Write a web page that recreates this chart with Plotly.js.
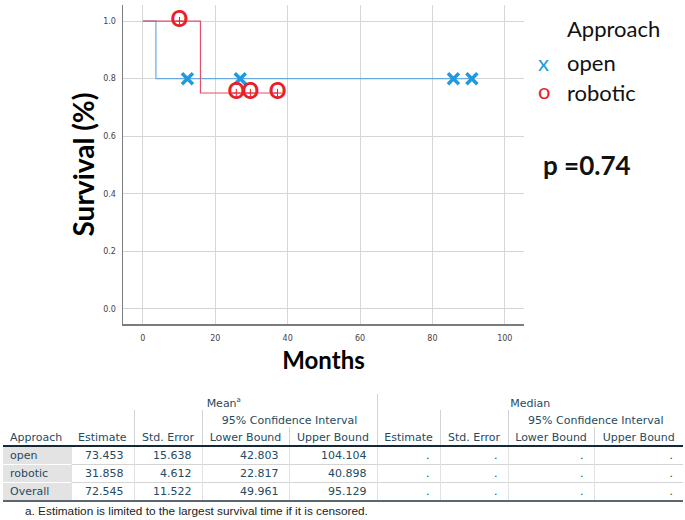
<!DOCTYPE html>
<html>
<head>
<meta charset="utf-8">
<script src="https://cdn.plot.ly/plotly-3.0.1.min.js"></script>
<style>
	body { margin:0; background:#fff; width:685px; height:520px; position:relative; overflow:hidden; }
	#km { position:absolute; left:0; top:0; width:685px; height:385px; }
	#tbl { position:absolute; left:3px; top:394px; width:680px; border-collapse:collapse; table-layout:fixed;
		font-family:"DejaVu Sans", sans-serif; font-size:11px; color:#264a60; }
	#tbl th { font-weight:normal; padding:0 2px; white-space:nowrap; vertical-align:bottom; }
	#tbl td { padding:0 10px 0 0; text-align:right; white-space:nowrap; border-left:1px solid #e2e2e2; border-top:1px solid #d4d4d4; }
	#tbl td.lab { text-align:left; padding-left:7px; background:#e3e3e3; border-left:none; border-top:1px solid #fff; }
	#tbl th.bl { border-left:1px solid #cfd4d8; }
	#tbl tr.h1 th { height:16px; }
	#tbl tr.h2 th { height:17px; }
	#tbl tr.h3 th { height:17px; padding-bottom:1px; }
	#tbl tr.first td { border-top:2px solid #152935; }
	#tbl tr.last td { border-bottom:2px solid #5a6670; }
	#tbl tr.data td { height:17px; }
	#note { position:absolute; left:25px; top:504px; font-family:"Liberation Sans", sans-serif; font-size:11.8px; color:#222; }
</style>
</head>
<body>
<div id="km"></div>
<table id="tbl"></table>
<div id="note">a. Estimation is limited to the largest survival time if it is censored.</div>
<script>
// Kaplan-Meier steps
const openStepTime = [0, 3.6, 90.9];
const openStepSurv = [1.0, 0.8, 0.8];
const openCensTime = [12.3, 26.9, 85.8, 90.9];
const openCensSurv = [0.8, 0.8, 0.8, 0.8];

const robStepTime = [0, 15.9, 37.2];
const robStepSurv = [1.0, 0.75, 0.75];
const robCensTime = [10.1, 25.8, 29.7, 37.2];
const robCensSurv = [1.0, 0.75, 0.75, 0.75];

// means / medians table
const groups = ['open', 'robotic', 'Overall'];
const meanEst = [73.453, 31.858, 72.545];
const meanSE = [15.638, 4.612, 11.522];
const meanLower = [42.803, 22.817, 49.961];
const meanUpper = [104.104, 40.898, 95.129];
const medianEst = ['.', '.', '.'];
const medianSE = ['.', '.', '.'];
const medianLower = ['.', '.', '.'];
const medianUpper = ['.', '.', '.'];

const colWidths = [68, 63, 68, 87, 88, 63, 68, 86, 89];

const blue = '#1e9be0';
const red = '#e8202a';

const plotArea = {l:122.7, r:524, t:5, b:324, h:385};
const px = (x) => (x - plotArea.l) / (plotArea.r - plotArea.l);
const py = (y) => (plotArea.b - y) / (plotArea.b - plotArea.t);

const drawChart = () => {
	let data = [
		{x:openStepTime, y:openStepSurv, mode:'lines', line:{shape:'hv', color:'#6aa8e0', width:1.2}},
		{x:robStepTime, y:robStepSurv, mode:'lines', line:{shape:'hv', color:'#e0506e', width:1.2}},
		{x:openCensTime, y:openCensSurv, mode:'markers',
			marker:{symbol:'x-thin', size:11, line:{color:blue, width:3.5}}},
		{x:robCensTime, y:robCensSurv, mode:'markers+text', text:robCensTime.map(()=>'O'),
			textposition:'middle center', textfont:{family:'Liberation Sans Narrow, Lato', size:22, color:red, weight:'bold'},
			marker:{symbol:'cross-thin', size:6, line:{color:red, width:1}}}
	];

	let axisCommon = {
		showgrid:true, gridcolor:'#d6d6d6', gridwidth:1,
		showline:true, linecolor:'#7c7c7c', linewidth:1.5,
		zeroline:false, ticks:'', tickfont:{family:'DejaVu Sans', size:8, color:'#444'},
		automargin:false
	};

	let layout = {
		width:685, height:385,
		margin:{l:plotArea.l, r:685-plotArea.r, t:plotArea.t, b:plotArea.h-plotArea.b},
		paper_bgcolor:'#fff', plot_bgcolor:'#fff',
		showlegend:false,
		xaxis:Object.assign({}, axisCommon, {
			range:[-5.5, 105.3], tickvals:[0,20,40,60,80,100], ticklabelstandoff:6,
			title:{text:'Months', font:{family:'Lato', size:24, color:'#000', weight:'bold'}, standoff:10}
		}),
		yaxis:Object.assign({}, axisCommon, {
			range:[-0.053, 1.056], tickvals:[0,0.2,0.4,0.6,0.8,1.0], tickformat:'.1f', ticklabelstandoff:4,
			title:{text:'Survival (%)', font:{family:'Lato', size:28, color:'#000', weight:'bold'}, standoff:0}
		}),
		annotations:[
			{xref:'paper', yref:'paper', x:px(565), y:py(28), xanchor:'left', yanchor:'middle', showarrow:false,
				text:'Approach', font:{family:'Lato', size:22, color:'#111'}},
			{xref:'paper', yref:'paper', x:px(544), y:py(62), xanchor:'center', yanchor:'middle', showarrow:false,
				text:'x', font:{family:'Lato', size:22, color:blue}},
			{xref:'paper', yref:'paper', x:px(565), y:py(62), xanchor:'left', yanchor:'middle', showarrow:false,
				text:'open', font:{family:'Lato', size:22, color:'#111'}},
			{xref:'paper', yref:'paper', x:px(544), y:py(91), xanchor:'center', yanchor:'middle', showarrow:false,
				text:'o', font:{family:'Lato', size:22, color:red}},
			{xref:'paper', yref:'paper', x:px(565), y:py(92), xanchor:'left', yanchor:'middle', showarrow:false,
				text:'robotic', font:{family:'Lato', size:22, color:'#111'}},
			{xref:'paper', yref:'paper', x:px(541), y:py(165), xanchor:'left', yanchor:'middle', showarrow:false,
				text:'p =0.74', font:{family:'Lato', size:26, color:'#111', weight:'bold'}}
		]
	};

	Plotly.newPlot('km', data, layout, {staticPlot:true, displayModeBar:false});
}

const drawTable = () => {
	let tbl = document.querySelector('#tbl');
	let html = '<colgroup>' + colWidths.map(w => '<col style="width:' + w + 'px">').join('') + '</colgroup>';
	html += '<tr class="h1"><th></th><th colspan="4">Mean<sup style="font-size:7px">a</sup></th>'
		+ '<th colspan="4" class="bl">Median</th></tr>';
	html += '<tr class="h2"><th></th><th></th><th class="bl"></th><th colspan="2" class="bl">95% Confidence Interval</th>'
		+ '<th class="bl"></th><th class="bl"></th><th colspan="2" class="bl">95% Confidence Interval</th></tr>';
	let heads = ['Estimate', 'Std. Error', 'Lower Bound', 'Upper Bound', 'Estimate', 'Std. Error', 'Lower Bound', 'Upper Bound'];
	html += '<tr class="h3"><th style="text-align:left;padding-left:7px">Approach</th>'
		+ heads.map((h, i) => '<th' + (i > 0 ? ' class="bl"' : '') + '>' + h + '</th>').join('') + '</tr>';
	for (let i = 0; i < groups.length; i++) {
		let cls = 'data' + (i == 0 ? ' first' : '') + (i == groups.length - 1 ? ' last' : '');
		let vals = [meanEst[i].toFixed(3), meanSE[i].toFixed(3), meanLower[i].toFixed(3), meanUpper[i].toFixed(3),
			medianEst[i], medianSE[i], medianLower[i], medianUpper[i]];
		html += '<tr class="' + cls + '"><td class="lab">' + groups[i] + '</td>'
			+ vals.map(v => '<td>' + v + '</td>').join('') + '</tr>';
	}
	tbl.innerHTML = html;
}

drawChart();
drawTable();
</script>
</body>
</html>
